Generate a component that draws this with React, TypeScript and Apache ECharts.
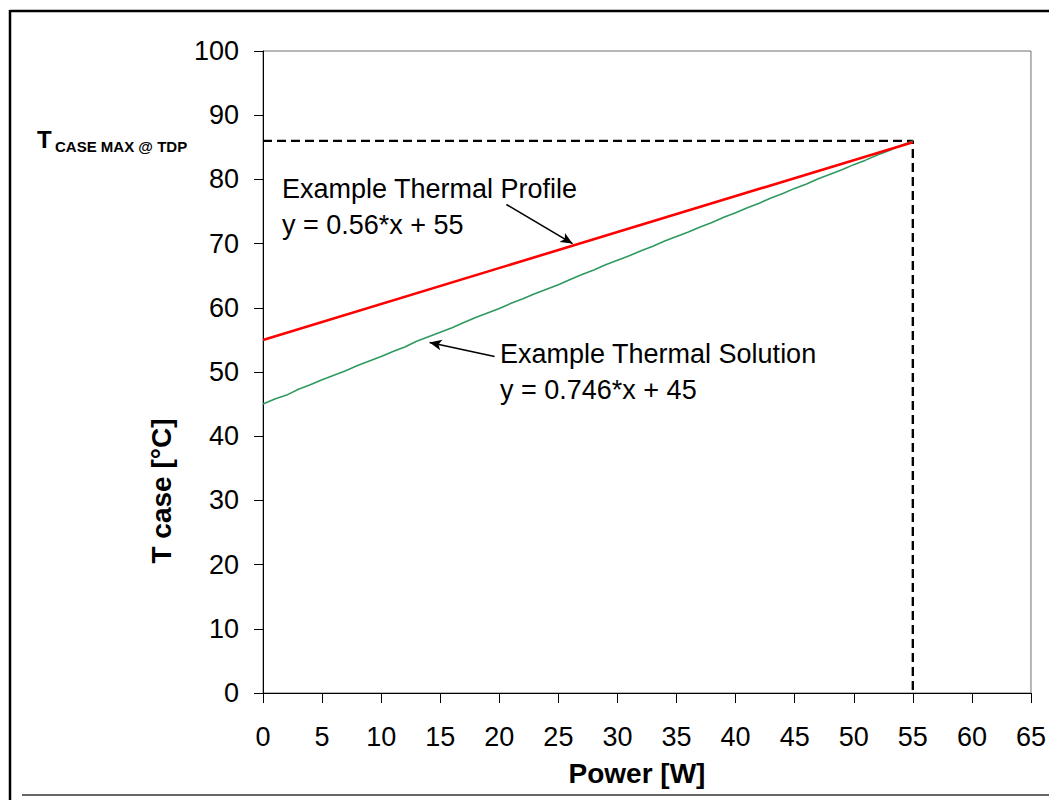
import React, { useEffect, useRef } from "react";
import * as echarts from "echarts";

const xTicks = { min: 0, max: 65, interval: 5 };
const yTicks = { min: 0, max: 100, interval: 10 };

const profileX = [0, 55];
const profileY = [55, 85.8];

const solutionX = [0,1,2,3,4,5,6,7,8,9,10,11,12,13,14,15,16,17,18,19,20,21,22,23,24,25,26,27,28,29,30,31,32,33,34,35,36,37,38,39,40,41,42,43,44,45,46,47,48,49,50,51,52,53,54,55];
const solutionY = [45.0,45.8,46.4,47.3,48.0,48.8,49.5,50.2,51.0,51.7,52.4,53.2,53.9,54.8,55.5,56.2,56.9,57.7,58.5,59.2,59.9,60.7,61.4,62.2,62.9,63.6,64.4,65.2,65.9,66.7,67.4,68.1,68.9,69.6,70.4,71.1,71.8,72.6,73.3,74.1,74.8,75.6,76.3,77.1,77.8,78.6,79.3,80.1,80.8,81.5,82.3,83.0,83.8,84.5,85.3,86.0];

// dashed T case max @ TDP guide: [x, y]
const guideX = [0, 55, 55];
const guideY = [86, 86, 0];

// annotation arrows: start -> tip in data coords
const profileArrow = [[20.6, 76.1], [26.2, 70.0]];
const solutionArrow = [[19.6, 52.4], [14.1, 54.6]];

const profileLabel = ["Example Thermal Profile", "y = 0.56*x + 55"];
const solutionLabel = ["Example Thermal Solution", "y = 0.746*x + 45"];
const xName = "Power [W]";
const yName = "T case [°C]";
const tMaxMain = "T";
const tMaxSub = "CASE MAX @ TDP";

const FONT = "'Liberation Sans', Arial, sans-serif";

export default function App() {
  const ref = useRef<HTMLDivElement>(null);
  useEffect(() => {
    document.body.style.margin = "0";
    const chart = echarts.init(ref.current!, null, { renderer: "svg" });
    const zip = (xs: number[], ys: number[]) => xs.map((x, i) => [x, ys[i]]);
    const textStyle = (t: string, size: number, bold = false) => ({
      text: t,
      fill: "#000",
      font: `${bold ? "bold " : ""}${size}px ${FONT}`,
      textVerticalAlign: "middle",
    });
    chart.setOption({
      animation: false,
      backgroundColor: "#fff",
      grid: {
        left: 263,
        top: 51,
        width: 768,
        height: 642,
        show: true,
        borderColor: "#707070",
        borderWidth: 1,
        backgroundColor: "transparent",
      },
      xAxis: {
        type: "value",
        min: xTicks.min,
        max: xTicks.max,
        interval: xTicks.interval,
        axisLine: { show: true, onZero: false, lineStyle: { color: "#000", width: 1 } },
        axisTick: { show: true, inside: false, length: 10, lineStyle: { color: "#000" } },
        axisLabel: { color: "#000", fontSize: 27, fontFamily: FONT, margin: 30 },
        splitLine: { show: false },
      },
      yAxis: {
        type: "value",
        min: yTicks.min,
        max: yTicks.max,
        interval: yTicks.interval,
        axisLine: { show: true, onZero: false, lineStyle: { color: "#000", width: 1 } },
        axisTick: { show: true, inside: false, length: 9, lineStyle: { color: "#000" } },
        axisLabel: { color: "#000", fontSize: 27, fontFamily: FONT, margin: 24 },
        splitLine: { show: false },
      },
      series: [
        {
          type: "line",
          data: zip(guideX, guideY),
          symbol: "none",
          lineStyle: { color: "#000", width: 2.4, type: [9, 5] },
          z: 1,
        },
        {
          type: "line",
          data: zip(solutionX, solutionY),
          symbol: "none",
          lineStyle: { color: "#2f9a5f", width: 1.6 },
          z: 2,
          markLine: {
            silent: true,
            symbol: ["none", "arrow"],
            symbolSize: [8, 12],
            label: { show: false },
            lineStyle: { color: "#000", width: 1.6, type: "solid" },
            data: [
              [{ coord: solutionArrow[0] }, { coord: solutionArrow[1] }],
              [{ coord: profileArrow[0] }, { coord: profileArrow[1] }],
            ],
          },
        },
        {
          type: "line",
          data: zip(profileX, profileY),
          symbol: "none",
          lineStyle: { color: "#ff0000", width: 2.6 },
          z: 3,
        },
      ],
      graphic: [
        { type: "line", shape: { x1: 10, y1: 11, x2: 1049, y2: 11 }, style: { stroke: "#000", lineWidth: 2.5 } },
        { type: "line", shape: { x1: 10, y1: 10, x2: 10, y2: 800 }, style: { stroke: "#000", lineWidth: 2.5 } },
        { type: "line", shape: { x1: 22, y1: 795, x2: 1049, y2: 795 }, style: { stroke: "#333", lineWidth: 1.5 } },
        { type: "text", x: 282, y: 189, style: textStyle(profileLabel[0], 27) },
        { type: "text", x: 282, y: 225, style: textStyle(profileLabel[1], 27) },
        { type: "text", x: 500, y: 354, style: textStyle(solutionLabel[0], 27) },
        { type: "text", x: 500, y: 390, style: textStyle(solutionLabel[1], 27) },
        { type: "text", x: 37, y: 139, style: textStyle(tMaxMain, 24, true) },
        { type: "text", x: 55, y: 146, style: textStyle(tMaxSub, 15, true) },
        {
          type: "text",
          x: 637,
          y: 773,
          style: { ...textStyle(xName, 28, true), textAlign: "center" },
        },
        {
          type: "text",
          x: 161,
          y: 491,
          rotation: Math.PI / 2,
          style: { ...textStyle(yName, 28, true), textAlign: "center" },
        },
      ],
    });
    return () => chart.dispose();
  }, []);
  return <div ref={ref} style={{ width: 1049, height: 800 }} />;
}
